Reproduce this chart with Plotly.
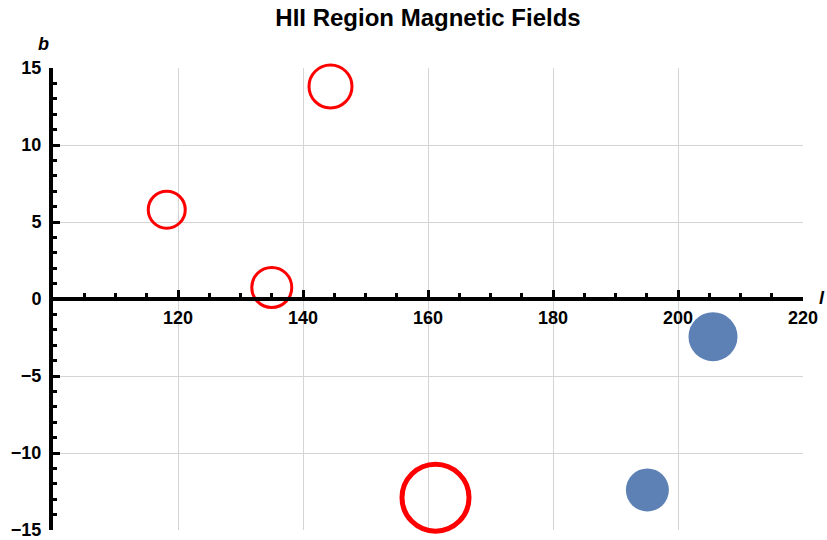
import plotly.graph_objects as go

# Data
red_l = [118.2, 135.0, 144.4, 161.2]
red_b = [5.8, 0.75, 13.8, -12.9]
red_size = [37, 40, 43, 67]
red_lw = [3, 3, 3, 5]

blue_l = [195.1, 205.6]
blue_b = [-12.4, -2.45]
blue_size = [43, 49]

x_ticks = [120, 140, 160, 180, 200, 220]
y_ticks = [-15, -10, -5, 0, 5, 10, 15]

FONT = "Liberation Sans"

fig = go.Figure()
fig.add_trace(go.Scatter(
    x=red_l, y=red_b, mode="markers", cliponaxis=False,
    marker=dict(symbol="circle-open", size=red_size, color="#ff0000", opacity=1,
                line=dict(width=red_lw, color="#ff0000")),
    showlegend=False, hoverinfo="x+y"))
fig.add_trace(go.Scatter(
    x=blue_l, y=blue_b, mode="markers", cliponaxis=False,
    marker=dict(symbol="circle", size=blue_size, color="#5e81b5", opacity=1,
                line=dict(width=0)),
    showlegend=False, hoverinfo="x+y"))

fig.update_layout(
    width=827, height=540,
    margin=dict(l=53, r=24, t=68, b=10, autoexpand=False),
    paper_bgcolor="white", plot_bgcolor="white",
    font=dict(family=FONT, size=18, color="black", weight="bold"),
    title=dict(text="HII Region Magnetic Fields", x=0.5, xref="paper", xanchor="center",
               y=1 - 17.5 / 540, yref="container", yanchor="middle",
               font=dict(family=FONT, size=24, weight="bold", color="black")),
    xaxis=dict(range=[100, 220], tickvals=x_ticks, ticktext=[str(v) for v in x_ticks],
               anchor="free", position=0.5, side="bottom", automargin=False,
               showline=True, linecolor="black", linewidth=4,
               ticks="inside", ticklen=7, tickwidth=3, tickcolor="black",
               showgrid=True, gridcolor="#d4d4d4", gridwidth=1,
               zeroline=False, ticklabelstandoff=1, ticklabeloverflow="allow",
               minor=dict(tick0=100, dtick=5, ticks="inside", ticklen=4, tickwidth=3,
                          tickcolor="black", showgrid=False),
               tickfont=dict(family=FONT, size=18, weight="bold")),
    yaxis=dict(range=[-15, 15], tickvals=y_ticks, automargin=False,
               showline=True, linecolor="black", linewidth=4,
               ticks="inside", ticklen=7, tickwidth=3, tickcolor="black",
               showgrid=True, gridcolor="#d4d4d4", gridwidth=1,
               zeroline=False, ticklabelstandoff=4, ticklabeloverflow="allow",
               minor=dict(tick0=0, dtick=1, ticks="inside", ticklen=4, tickwidth=3,
                          tickcolor="black", showgrid=False),
               tickfont=dict(family=FONT, size=18, weight="bold")),
    annotations=[
        dict(text="<i>b</i>", x=0, xref="paper", y=1, yref="paper",
             xanchor="right", yanchor="bottom", xshift=-2, yshift=12, showarrow=False,
             font=dict(family=FONT, size=18, weight="bold")),
        dict(text="<i>l</i>", x=1, xref="paper", y=0.5, yref="paper",
             xanchor="left", yanchor="middle", xshift=14, yshift=1, showarrow=False,
             font=dict(family=FONT, size=18, weight="bold")),
    ],
)

fig.write_html("out.html", config={"displayModeBar": False},
               post_script="document.body.style.margin='0';")
